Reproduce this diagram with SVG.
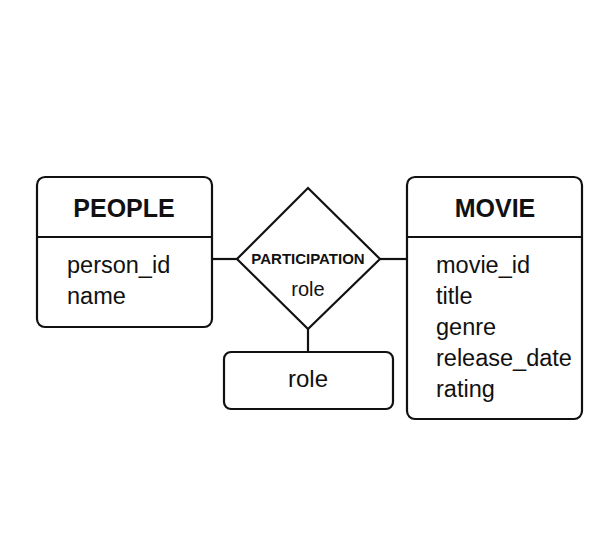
<svg xmlns="http://www.w3.org/2000/svg" width="615" height="556" viewBox="0 0 615 556">
<style>
.box{fill:#fff;stroke:#111;stroke-width:2.2}
.ln{stroke:#111;stroke-width:2.2;fill:none}
.t{font-family:"Liberation Sans",Arial,sans-serif;fill:#111}
.h{font-size:25px;font-weight:bold;text-anchor:middle}
.a{font-size:23.5px}
</style>
<rect width="615" height="556" fill="#fff"/>
<g id="connectors">
<line class="ln" x1="212" y1="259" x2="237" y2="259"/>
<line class="ln" x1="380" y1="259" x2="407" y2="259"/>
<line class="ln" x1="308" y1="329" x2="308" y2="352"/>
</g>
<g id="people">
<rect class="box" x="37" y="177" width="175" height="150" rx="8"/>
<line class="ln" x1="37" y1="237" x2="212" y2="237"/>
<text class="t h" x="124" y="217">PEOPLE</text>
<text class="t a" x="67" y="273">person_id</text>
<text class="t a" x="67" y="304">name</text>
</g>
<g id="participation">
<polygon class="box" points="308,188 380,259 308,329 237,259"/>
<text class="t" x="308" y="264" font-size="15" font-weight="bold" text-anchor="middle">PARTICIPATION</text>
<text class="t" x="308" y="296" font-size="20" text-anchor="middle">role</text>
</g>
<g id="role">
<rect class="box" x="224" y="352" width="169" height="57" rx="7"/>
<text class="t" x="308" y="387" font-size="24" text-anchor="middle">role</text>
</g>
<g id="movie">
<rect class="box" x="407" y="177" width="175" height="242" rx="8"/>
<line class="ln" x1="407" y1="237" x2="582" y2="237"/>
<text class="t h" x="495" y="217">MOVIE</text>
<text class="t a" x="436" y="273">movie_id</text>
<text class="t a" x="436" y="304">title</text>
<text class="t a" x="436" y="335">genre</text>
<text class="t a" x="436" y="366">release_date</text>
<text class="t a" x="436" y="397">rating</text>
</g>
</svg>
